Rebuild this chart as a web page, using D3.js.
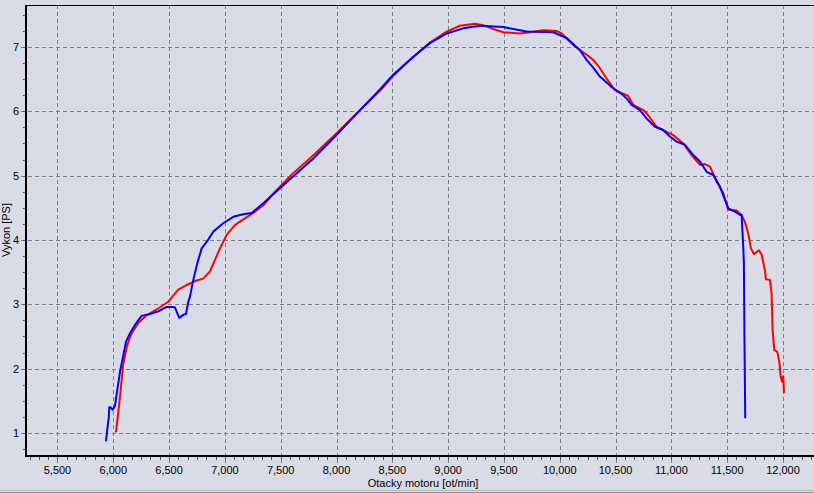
<!DOCTYPE html>
<html><head><meta charset="utf-8">
<script src="https://cdn.jsdelivr.net/npm/d3@7/dist/d3.min.js"></script>
<style>
html,body{margin:0;padding:0;background:#D9DCE6;}
svg{display:block;}
text{font-family:"Liberation Sans",Arial,sans-serif;font-size:11px;fill:#000;}
</style></head>
<body>
<svg id="chart" width="814" height="494"></svg>
<script>
// ---- data ----
const blueRpm = [5934,5946,5959,5964,5975,5994,6015,6036,6060,6090,6114,6150,6194,6254,6329,6403,6478,6532,6553,6591,6630,6651,6672,6687,6717,6753,6792,6837,6896,6985,7075,7165,7240,7344,7478,7600,7800,8000,8200,8389,8508,8688,8837,8987,9135,9285,9494,9703,9942,10062,10181,10241,10300,10360,10450,10479,10569,10599,10644,10718,10778,10853,10927,10987,11047,11122,11196,11256,11316,11376,11435,11510,11570,11615,11630,11636,11644,11650,11655,11662];
const bluePower = [0.87,1.05,1.23,1.40,1.40,1.36,1.42,1.67,1.95,2.21,2.42,2.55,2.68,2.82,2.85,2.89,2.96,2.96,2.95,2.79,2.84,2.85,3.04,3.12,3.38,3.64,3.87,3.97,4.13,4.26,4.36,4.40,4.42,4.57,4.78,4.97,5.28,5.63,6.00,6.34,6.57,6.85,7.06,7.21,7.29,7.33,7.31,7.24,7.23,7.14,6.95,6.80,6.68,6.54,6.40,6.36,6.25,6.20,6.10,6.02,5.89,5.76,5.71,5.61,5.53,5.48,5.32,5.22,5.06,5.01,4.83,4.49,4.44,4.39,4.39,4.16,3.90,3.64,2.45,1.23];
const redRpm = [6024,6054,6090,6125,6165,6224,6299,6389,6493,6582,6657,6747,6806,6866,6911,6956,7016,7090,7165,7254,7344,7449,7600,7800,8000,8200,8400,8508,8628,8837,8987,9106,9241,9315,9404,9494,9643,9733,9852,9972,10017,10121,10241,10300,10360,10420,10494,10614,10659,10749,10778,10868,11017,11107,11181,11256,11301,11346,11405,11465,11510,11584,11629,11659,11689,11713,11740,11785,11809,11838,11847,11883,11898,11907,11922,11949,11967,11979,11991,12003,12009];
const redPower = [1.01,1.46,2.08,2.37,2.55,2.71,2.83,2.92,3.04,3.23,3.30,3.37,3.40,3.51,3.69,3.87,4.08,4.23,4.32,4.42,4.54,4.75,5.02,5.33,5.66,6.00,6.34,6.55,6.75,7.07,7.24,7.33,7.36,7.34,7.28,7.23,7.21,7.23,7.26,7.25,7.21,7.03,6.88,6.80,6.67,6.51,6.33,6.24,6.10,6.02,5.97,5.76,5.63,5.50,5.32,5.17,5.18,5.14,4.91,4.73,4.47,4.46,4.39,4.28,4.10,3.87,3.78,3.84,3.77,3.53,3.39,3.38,3.17,2.60,2.29,2.26,2.11,1.88,1.80,1.88,1.62];
const xTicks = [5500,6000,6500,7000,7500,8000,8500,9000,9500,10000,10500,11000,11500,12000];
const yTicks = [1,2,3,4,5,6,7];
const xLabel = "Otacky motoru [ot/min]";
const yLabel = "Vykon [PS]";

// ---- layout ----
const L = 26, T = 5, B = 456, R = 814;
const x = d3.scaleLinear().domain([5218, 12278]).range([L, R]);
const y = d3.scaleLinear().domain([0.642, 7.653]).range([B, T]);
const svg = d3.select("#chart");

svg.append("rect").attr("width",814).attr("height",494).attr("fill","#D9DCE6");

// grid
const g = svg.append("g").attr("shape-rendering","crispEdges");
g.selectAll(".vg").data(xTicks).enter().append("line")
  .attr("x1",d=>Math.round(x(d))+0.5).attr("x2",d=>Math.round(x(d))+0.5)
  .attr("y1",T).attr("y2",B+7)
  .attr("stroke","#7f7f7f").attr("stroke-dasharray","4,3");
g.selectAll(".hg").data(yTicks).enter().append("line")
  .attr("y1",d=>Math.round(y(d))+0.5).attr("y2",d=>Math.round(y(d))+0.5)
  .attr("x1",L-5).attr("x2",R)
  .attr("stroke","#7f7f7f").attr("stroke-dasharray","4,3");

// minor ticks
const xMinor = d3.range(5250, 12278, 500/6).filter(v=>x(v)>L+2);
g.selectAll(".xm").data(xMinor).enter().append("line")
  .attr("x1",d=>Math.round(x(d))+0.5).attr("x2",d=>Math.round(x(d))+0.5)
  .attr("y1",B+1).attr("y2",B+4).attr("stroke","#555");
const yMinor = d3.range(0.75, 7.7, 0.25);
g.selectAll(".ym").data(yMinor).enter().append("line")
  .attr("y1",d=>Math.round(y(d))+0.5).attr("y2",d=>Math.round(y(d))+0.5)
  .attr("x1",L-3).attr("x2",L-1).attr("stroke","#555");

// axes lines
g.append("line").attr("x1",L+0.5).attr("x2",R).attr("y1",T+0.5).attr("y2",T+0.5).attr("stroke","#000");
g.append("line").attr("x1",L-0.5).attr("x2",L-0.5).attr("y1",T).attr("y2",B+1).attr("stroke","#000").attr("stroke-width",2);
g.append("line").attr("x1",L-1).attr("x2",R).attr("y1",B).attr("y2",B).attr("stroke","#000").attr("stroke-width",2);

// bottom frame lines
g.append("line").attr("x1",0).attr("x2",814).attr("y1",490.5).attr("y2",490.5).attr("stroke","#b4b7c0");
g.append("line").attr("x1",0).attr("x2",814).attr("y1",492.5).attr("y2",492.5).attr("stroke","#8a8c92");

// tick labels
svg.selectAll(".xl").data(xTicks).enter().append("text")
  .attr("x",d=>x(d)).attr("y",474).attr("text-anchor","middle")
  .text(d=>d3.format(",")(d));
svg.selectAll(".yl").data(yTicks).enter().append("text")
  .attr("x",19).attr("y",d=>y(d)+4).attr("text-anchor","end")
  .text(d=>d);
svg.append("text").attr("x",(L+R)/2+3).attr("y",487).attr("text-anchor","middle").text(xLabel);
svg.append("text").attr("transform","translate(10,230) rotate(-90)").attr("text-anchor","middle").text(yLabel);

// lines
const line = d3.line().x(d=>x(d[0])).y(d=>y(d[1]));
const redData = d3.zip(redRpm, redPower);
const blueData = d3.zip(blueRpm, bluePower);
svg.append("path").datum(redData).attr("d",line).attr("fill","none").attr("stroke","#ff0000").attr("stroke-width",2).attr("stroke-linejoin","round");
svg.append("path").datum(blueData).attr("d",line).attr("fill","none").attr("stroke","#0000ff").attr("stroke-width",2).attr("stroke-linejoin","round");
</script>
</body></html>
